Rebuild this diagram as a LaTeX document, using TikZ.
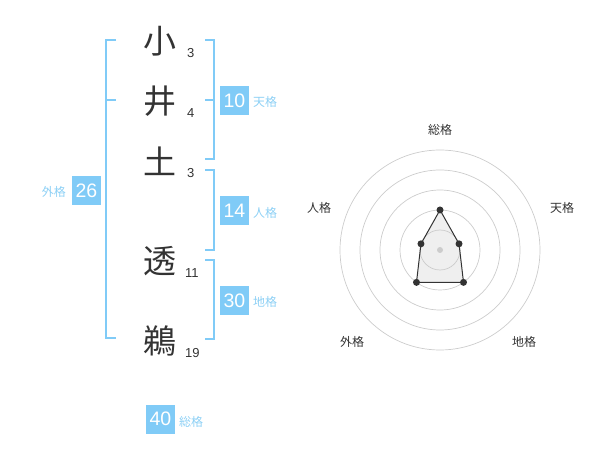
\documentclass[tikz,border=0pt]{standalone}
\usepackage{fontspec}
\setmainfont{Liberation Sans}
\newfontfamily\cjk{Noto Sans CJK JP}
\definecolor{kblue}{HTML}{80CBF7}
\definecolor{klabel}{HTML}{8DD0F5}
\definecolor{ink}{HTML}{333333}
\definecolor{ring}{HTML}{CCCCCC}
\definecolor{area}{HTML}{EFEFEF}
\begin{document}
\begin{tikzpicture}[x=1pt,y=-1pt,
  kanji/.style={font=\cjk\fontsize{33}{33}\selectfont, text=ink, inner sep=0pt},
  strokes/.style={font=\fontsize{13}{13}\selectfont, text=ink, anchor=west, inner sep=0pt},
  numbox/.style={fill=kblue, text=white, minimum width=29pt, minimum height=29pt, inner sep=0pt, font=\fontsize{19.5}{19.5}\selectfont},
  kaku/.style={font=\cjk\fontsize{12}{12}\selectfont, text=klabel, inner sep=0pt},
  bracket/.style={draw=kblue, line width=2pt},
  radarlbl/.style={font=\cjk\fontsize{12}{12}\selectfont, text=ink, inner sep=0pt},
  ringline/.style={draw=ring, line width=0.7pt},
  dot/.style={circle, fill=ink, minimum size=7pt, inner sep=0pt}
]
\useasboundingbox (0,0) rectangle (600,470);

% characters
\node[kanji] (c1) at (160,41) {小};
\node[kanji] (c2) at (160,101) {井};
\node[kanji] (c3) at (160,161) {土};
\node[kanji] (c4) at (160,261) {透};
\node[kanji] (c5) at (160,341) {鵜};
\node[strokes] (s1) at (187,53) {3};
\node[strokes] (s2) at (187,113) {4};
\node[strokes] (s3) at (187,173) {3};
\node[strokes] (s4) at (185,273) {11};
\node[strokes] (s5) at (185,353) {19};

% brackets
\draw[bracket] (116,40) -- (106,40) -- (106,338) -- (116,338);
\draw[bracket] (106,100) -- (116,100);
\draw[bracket] (205,40) -- (214,40) -- (214,159) -- (205,159);
\draw[bracket] (205,100) -- (214,100);
\draw[bracket] (205,170) -- (214,170) -- (214,250) -- (205,250);
\draw[bracket] (205,260) -- (214,260) -- (214,339) -- (205,339);

% boxes
\node[numbox] (b10) at (234.5,100.5) {10};
\node[kaku, anchor=west] (l10) at (253,102) {天格};
\node[numbox] (b14) at (234.5,211) {14};
\node[kaku, anchor=west] (l14) at (253,213) {人格};
\node[numbox] (b30) at (234.5,300.5) {30};
\node[kaku, anchor=west] (l30) at (253,302) {地格};
\node[numbox] (b26) at (86.5,190.5) {26};
\node[kaku, anchor=east] (l26) at (66,192) {外格};
\node[numbox] (b40) at (160.5,419) {40};
\node[kaku, anchor=west] (l40) at (179,422) {総格};

% radar
\coordinate (o) at (440,250);
\coordinate (p1) at (440,210);
\coordinate (p2) at (459.02,243.82);
\coordinate (p3) at (463.51,282.36);
\coordinate (p4) at (416.49,282.36);
\coordinate (p5) at (420.98,243.82);
\fill[area] (p1) -- (p2) -- (p3) -- (p4) -- (p5) -- cycle;
\foreach \r in {20,40,60,80,100} \draw[ringline] (o) circle[radius=\r];
\draw[ink, line width=1pt, line join=round] (p1) -- (p2) -- (p3) -- (p4) -- (p5) -- cycle;
\foreach \p in {p1,p2,p3,p4,p5} \node[dot] at (\p) {};
\node[circle, fill=ring, minimum size=6pt, inner sep=0pt] (oc) at (o) {};

\node[radarlbl] (r1) at (440,130) {総格};
\node[radarlbl] (r2) at (562,208) {天格};
\node[radarlbl] (r3) at (524,342) {地格};
\node[radarlbl] (r4) at (352,342) {外格};
\node[radarlbl] (r5) at (319,208) {人格};
\end{tikzpicture}
\end{document}
